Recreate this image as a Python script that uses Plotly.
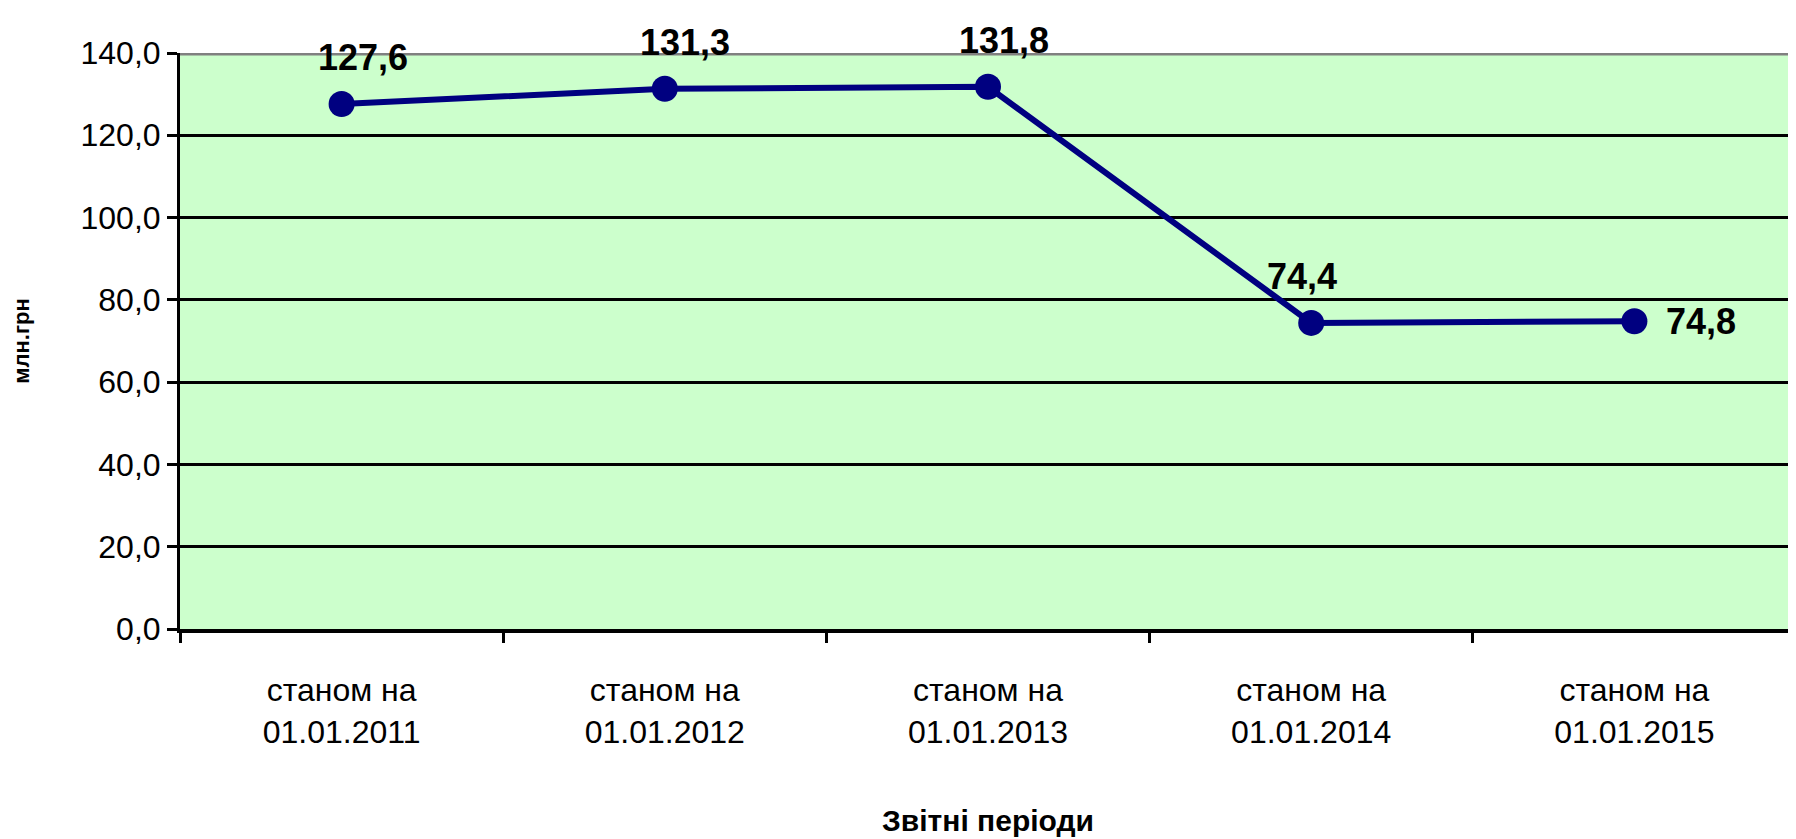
import plotly.graph_objects as go

categories = ["станом на<br>01.01.2011", "станом на<br>01.01.2012", "станом на<br>01.01.2013",
              "станом на<br>01.01.2014", "станом на<br>01.01.2015"]
values = [127.6, 131.3, 131.8, 74.4, 74.8]
labels = ["127,6", "131,3", "131,8", "74,4", "74,8"]
y_ticks = [0, 20, 40, 60, 80, 100, 120, 140]

FONT = "Liberation Sans, Arial, sans-serif"
NAVY = "#000080"

fig = go.Figure()
fig.add_trace(go.Scatter(
    x=categories, y=values, mode="lines+markers",
    line=dict(color=NAVY, width=6),
    marker=dict(color=NAVY, size=26, symbol="circle"),
    showlegend=False, hoverinfo="skip",
))

label_shifts = [(21, 24, "center", "bottom"), (20, 24, "center", "bottom"),
                (16, 24, "center", "bottom"), (-9, 24, "center", "bottom"),
                (30, 0, "left", "middle")]
for c, v, t, (dx, dy, xa, ya) in zip(categories, values, labels, label_shifts):
    fig.add_annotation(x=c, y=v, text=t, showarrow=False, xshift=dx, yshift=dy,
                       xanchor=xa, yanchor=ya,
                       font=dict(family=FONT, size=36, color="black", weight="bold"))

fig.add_shape(type="line", xref="paper", yref="y", x0=0, x1=1, y0=140, y1=140,
              line=dict(color="#808080", width=5), layer="above")

fig.update_layout(
    width=1788, height=831,
    margin=dict(l=172, r=0, t=45, b=210),
    paper_bgcolor="white", plot_bgcolor="#CCFFCC",
    separators=", ",
    font=dict(family=FONT, color="black"),
    xaxis=dict(
        type="category", range=[-0.5, 4.5],
        tickson="boundaries", ticks="outside", ticklen=10, tickwidth=3, tickcolor="black",
        showline=True, linecolor="black", linewidth=4,
        showgrid=False, tickfont=dict(size=32, family=FONT),
        ticklabelstandoff=30,
        title=dict(text="Звітні періоди", font=dict(size=30, family=FONT, weight="bold"), standoff=62),
    ),
    yaxis=dict(
        range=[0, 140], tickvals=y_ticks, tickformat=".1f",
        ticks="outside", ticklen=10, tickwidth=3, tickcolor="black",
        showline=True, linecolor="black", linewidth=3,
        showgrid=True, gridcolor="black", gridwidth=3, zeroline=False,
        tickfont=dict(size=32, family=FONT),
        title=dict(text="млн.грн", font=dict(size=22, family=FONT, weight="bold"), standoff=45),
    ),
)

fig.write_html("out.html")
